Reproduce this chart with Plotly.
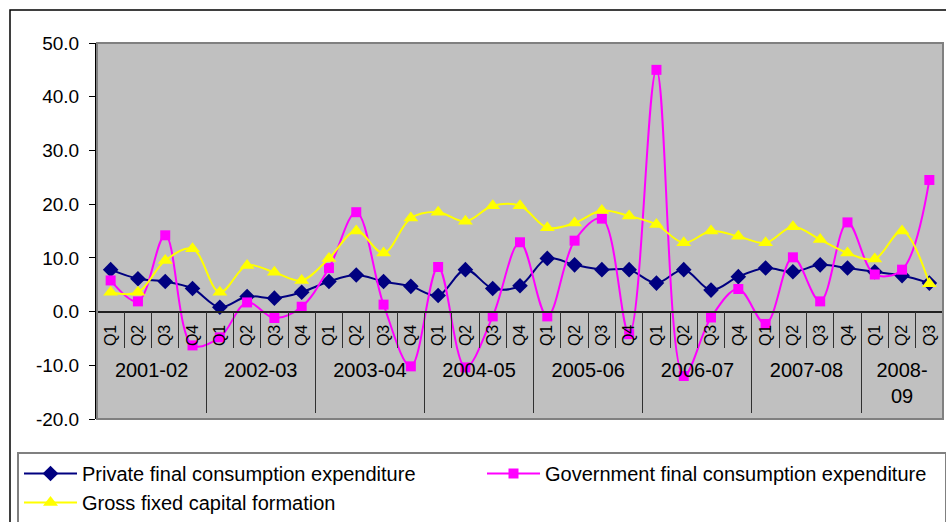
import plotly.graph_objects as go

years = ["2001-02", "2002-03", "2003-04", "2004-05", "2005-06", "2006-07", "2007-08", "2008-09"]
quarters_per_year = [4, 4, 4, 4, 4, 4, 4, 3]

private_fce = [7.8, 6.1, 5.6, 4.3,
               0.8, 2.8, 2.5, 3.6,
               5.6, 6.8, 5.6, 4.7,
               3.0, 7.8, 4.3, 4.8,
               9.9, 8.7, 7.8, 7.8,
               5.3, 7.8, 4.0, 6.5,
               8.1, 7.4, 8.7, 8.1,
               7.4, 6.7, 5.3]

govt_fce = [5.8, 1.9, 14.2, -6.3,
            -4.8, 1.7, -1.2, 0.9,
            8.1, 18.5, 1.3, -10.2,
            8.3, -10.4, -0.9, 12.9,
            -0.9, 13.2, 17.3, -4.2,
            45.0, -12.0, -1.1, 4.2,
            -2.3, 10.1, 1.9, 16.6,
            6.9, 7.8, 24.5]

gfcf = [3.6, 3.6, 9.5, 11.7,
        3.6, 8.6, 7.3, 5.8,
        9.9, 15.0, 10.9, 17.4,
        18.5, 16.8, 19.7, 19.7,
        15.6, 16.5, 18.8, 17.8,
        16.2, 12.8, 15.0, 14.0,
        12.8, 15.8, 13.4, 10.9,
        9.8, 15.0, 5.2]

y_ticks = [-20, -10, 0, 10, 20, 30, 40, 50]

# quarter labels and their positions on the category scale
q_labels = []
for n in quarters_per_year:
    q_labels += ["Q%d" % (k + 1) for k in range(n)]
xs = list(range(len(q_labels)))
q_bounds = [x + 0.5 for x in xs[:-1]]

# year groups: centres for the labels, boundaries for the dividers
year_centres = []
year_bounds = []
start = 0
for n in quarters_per_year:
    year_centres.append(start + (n - 1) / 2)
    start += n
    year_bounds.append(start - 0.5)
year_bounds = year_bounds[:-1]
year_text = [y if n == 4 else y.replace("-", "-<br>") for y, n in zip(years, quarters_per_year)]

W, H = 946, 522
L, R, T, B = 97, 3, 43, 103
pw, ph = W - L - R, H - T - B


def px_x(p):
    return (p - L) / pw


def px_y(p):
    return (H - B - p) / ph


ymin, ymax = y_ticks[0], y_ticks[-1]
zero_pos = (0 - ymin) / (ymax - ymin)
xrange_ = [-0.5, len(xs) - 0.5]

font = "Liberation Sans, Arial, sans-serif"

fig = go.Figure()
fig.add_trace(go.Scatter(
    x=xs, y=private_fce, name="Private final consumption expenditure",
    mode="lines+markers", line=dict(color="#000080", width=2, shape="spline"),
    marker=dict(symbol="diamond", size=12, color="#000080")))
fig.add_trace(go.Scatter(
    x=xs, y=govt_fce, name="Government final consumption expenditure",
    mode="lines+markers", line=dict(color="#FF00FF", width=2, shape="spline"),
    marker=dict(symbol="square", size=10, color="#FF00FF")))
fig.add_trace(go.Scatter(
    x=xs, y=gfcf, name="Gross fixed capital formation",
    mode="lines+markers", line=dict(color="#FFFF00", width=2, shape="spline"),
    marker=dict(symbol="triangle-up", size=13, color="#FFFF00")))

# empty traces so the overlaid label axes get drawn
for ax in ["x2", "x3", "x4"]:
    fig.add_trace(go.Scatter(x=[None], y=[None], xaxis=ax, yaxis="y",
                             showlegend=False, hoverinfo="skip"))

common = dict(range=xrange_, anchor="free", position=zero_pos, showgrid=False,
              zeroline=False, tickmode="array")

fig.update_layout(
    width=W, height=H,
    margin=dict(l=L, r=R, t=T, b=B, autoexpand=False),
    paper_bgcolor="white", plot_bgcolor="#C0C0C0",
    font=dict(family=font, color="black"),
    # quarter dividers + axis line at zero
    xaxis=dict(common, tickvals=q_bounds, showticklabels=False,
               ticks="outside", ticklen=36, tickcolor="#303030", tickwidth=1.2,
               showline=True, linecolor="#202020", linewidth=1.5),
    # quarter labels
    xaxis2=dict(common, overlaying="x", tickvals=xs, ticktext=q_labels,
                tickangle=-90, ticks="", showline=False,
                tickfont=dict(size=16), ticklabelstandoff=9),
    # year dividers
    xaxis3=dict(common, overlaying="x", tickvals=year_bounds, showticklabels=False,
                ticks="outside", ticklen=100, tickcolor="#303030", tickwidth=1.2,
                showline=False),
    # year labels
    xaxis4=dict(common, overlaying="x", tickvals=year_centres, ticktext=year_text,
                ticks="", showline=False, tickfont=dict(size=20), ticklabelstandoff=44),
    yaxis=dict(
        range=[ymin, ymax], tickmode="array", tickvals=y_ticks,
        ticktext=["%.1f" % v for v in y_ticks],
        ticks="outside", ticklen=6, tickcolor="black",
        showline=True, linecolor="black", linewidth=2, showgrid=False, zeroline=False,
        tickfont=dict(size=19), ticklabelstandoff=6,
    ),
    legend=dict(
        orientation="h", x=px_x(17), y=px_y(452), xanchor="left", yanchor="top",
        bgcolor="white", bordercolor="#808080", borderwidth=2,
        font=dict(size=20), itemwidth=53, entrywidth=395, entrywidthmode="pixels",
        traceorder="normal",
    ),
    shapes=[
        dict(type="rect", xref="paper", yref="paper", x0=0, x1=1, y0=0, y1=1,
             line=dict(color="#808080", width=2), layer="above"),
        dict(type="rect", xref="paper", yref="paper", x0=px_x(10), x1=px_x(W + 20),
             y0=px_y(H + 20), y1=px_y(10), line=dict(color="black", width=1.5)),
    ],
    showlegend=True,
)

fig.write_html("out.html", config={"displayModeBar": False},
               post_script="document.body.style.margin='0px';")
